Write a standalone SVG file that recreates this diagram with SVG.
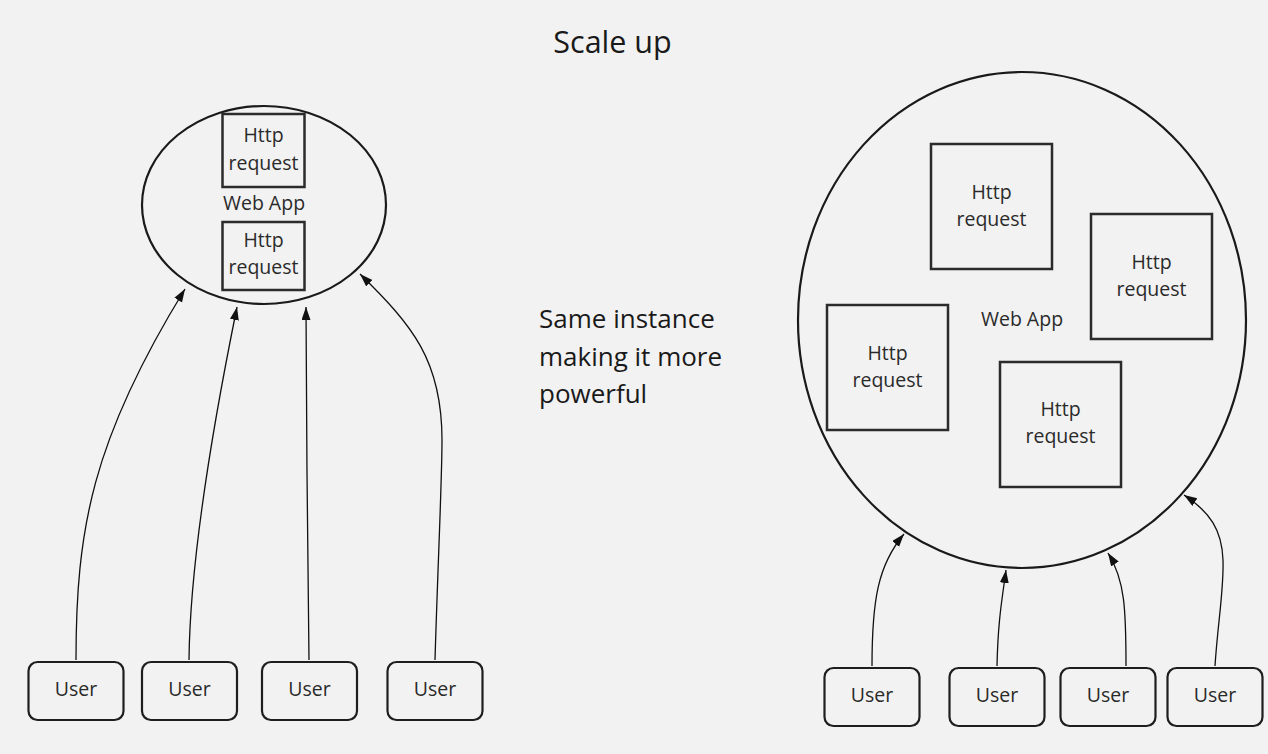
<svg xmlns="http://www.w3.org/2000/svg" width="1268" height="754" viewBox="0 0 1268 754">
<defs>
<style>
.bg{fill:#f2f2f2}
.ell{fill:none;stroke:#1a1a1a;stroke-width:2.2}
.box{fill:none;stroke:#2b2b2b;stroke-width:2.5}
.user{fill:none;stroke:#1e1e1e;stroke-width:2.2}
.t{font-family:"Open Sans","Noto Sans","Liberation Sans",sans-serif;font-size:19.5px;fill:#2a2a2a;text-anchor:middle}
.big{font-family:"Open Sans","Noto Sans","Liberation Sans",sans-serif;fill:#1a1a1a}
.c{fill:none;stroke:#111;stroke-width:1.3}
</style>
<marker id="ah" markerUnits="userSpaceOnUse" markerWidth="14" markerHeight="10" refX="13" refY="4.5" orient="auto">
<path d="M0,0 L13,4.5 L0,9 z" fill="#111"/>
</marker>
</defs>
<rect class="bg" x="0" y="0" width="1268" height="754"/>
<text class="big" x="612.5" y="53" font-size="30.5" text-anchor="middle">Scale up</text>
<text class="big" font-size="26" x="539" y="328">Same instance</text>
<text class="big" font-size="26" x="539" y="366">making it more</text>
<text class="big" font-size="26" x="539" y="403">powerful</text>

<g id="webapp-left">
<ellipse class="ell" cx="264" cy="205" rx="122" ry="99"/>
<text class="t" x="264" y="210">Web App</text>
</g>
<g id="http-left-1">
<rect class="box" x="222.5" y="114" width="82" height="73"/>
<text class="t" x="263.5" y="142">Http</text>
<text class="t" x="263.5" y="170">request</text>
</g>
<g id="http-left-2">
<rect class="box" x="222.5" y="222" width="82" height="68"/>
<text class="t" x="263.5" y="247">Http</text>
<text class="t" x="263.5" y="274">request</text>
</g>

<g id="webapp-right">
<ellipse class="ell" cx="1022" cy="320" rx="224" ry="248"/>
<text class="t" x="1022" y="326">Web App</text>
</g>
<g id="http-right-1">
<rect class="box" x="931" y="144" width="121" height="125"/>
<text class="t" x="991.5" y="199">Http</text>
<text class="t" x="991.5" y="226">request</text>
</g>
<g id="http-right-2">
<rect class="box" x="1091" y="214" width="121" height="125"/>
<text class="t" x="1151.5" y="269">Http</text>
<text class="t" x="1151.5" y="296">request</text>
</g>
<g id="http-right-3">
<rect class="box" x="827" y="305" width="121" height="125"/>
<text class="t" x="887.5" y="360">Http</text>
<text class="t" x="887.5" y="387">request</text>
</g>
<g id="http-right-4">
<rect class="box" x="1000" y="362" width="121" height="125"/>
<text class="t" x="1060.5" y="416">Http</text>
<text class="t" x="1060.5" y="443">request</text>
</g>

<g id="user-l1"><rect class="user" x="28.5" y="662" width="95" height="58" rx="9"/><text class="t" x="76" y="696">User</text></g>
<g id="user-l2"><rect class="user" x="142" y="662" width="95" height="58" rx="9"/><text class="t" x="189.5" y="696">User</text></g>
<g id="user-l3"><rect class="user" x="262" y="662" width="95" height="58" rx="9"/><text class="t" x="309.5" y="696">User</text></g>
<g id="user-l4"><rect class="user" x="387.5" y="662" width="95" height="58" rx="9"/><text class="t" x="435" y="696">User</text></g>

<g id="user-r1"><rect class="user" x="824.5" y="668" width="95" height="58" rx="9"/><text class="t" x="872" y="702">User</text></g>
<g id="user-r2"><rect class="user" x="949.5" y="668" width="95" height="58" rx="9"/><text class="t" x="997" y="702">User</text></g>
<g id="user-r3"><rect class="user" x="1060.5" y="668" width="95" height="58" rx="9"/><text class="t" x="1108" y="702">User</text></g>
<g id="user-r4"><rect class="user" x="1167.5" y="668" width="95" height="58" rx="9"/><text class="t" x="1215" y="702">User</text></g>

<g id="connectors">
<path class="c" marker-end="url(#ah)" d="M76,660 C76,530 92,440 185,289"/>
<path class="c" marker-end="url(#ah)" d="M189,660 C190,560 212,430 237,307"/>
<path class="c" marker-end="url(#ah)" d="M309,660 C308,550 306,420 306,307"/>
<path class="c" marker-end="url(#ah)" d="M435,660 C438,560 442,480 442,440 C442,360 412,325 360,274"/>
<path class="c" marker-end="url(#ah)" d="M872,666 C872,600 878,565 904,534"/>
<path class="c" marker-end="url(#ah)" d="M997,666 C998,620 1002,600 1006,570"/>
<path class="c" marker-end="url(#ah)" d="M1126,666 C1126,610 1125,580 1108,553"/>
<path class="c" marker-end="url(#ah)" d="M1215,666 C1218,620 1224,590 1223,560 C1222,530 1210,512 1184,495"/>
</g>
</svg>
